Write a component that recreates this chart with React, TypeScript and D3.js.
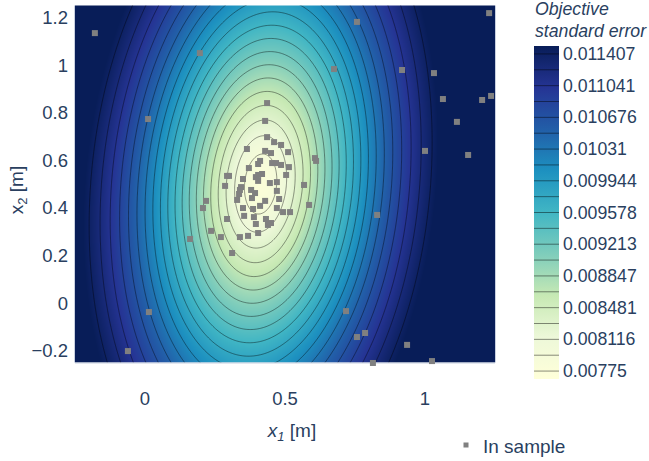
import React, { useMemo } from 'react';
import * as d3 from 'd3';

// ---- data (x1, x2 in metres) ----
const sampleX1 = [
  -0.179, 0.196, 0.011, 0.757, 0.675, 0.918, 1.032, 1.064, 1.204, 1.236, 1.229, 1.114, 1.0, 1.154,
  0.607, 0.611, 0.586, 0.829, 0.161, 0.014, -0.061, 0.718, 0.757, 0.786, 0.936, 0.814, 1.025,
  0.436, 0.429, 0.436, 0.364, 0.461, 0.486, 0.511, 0.429, 0.45, 0.411, 0.404, 0.454, 0.468, 0.486,
  0.514, 0.371, 0.404, 0.396, 0.418, 0.35, 0.293, 0.3, 0.286, 0.343, 0.404, 0.446, 0.471, 0.504,
  0.568, 0.339, 0.379, 0.471, 0.336, 0.393, 0.329, 0.382, 0.429, 0.479, 0.218, 0.207, 0.35, 0.411,
  0.386, 0.471, 0.493, 0.518, 0.293, 0.354, 0.389, 0.432, 0.439, 0.45, 0.396, 0.236, 0.271, 0.339,
  0.368, 0.404, 0.311,
];
const sampleX2 = [
  1.134, 1.05, 0.773, 1.181, 0.983, 0.979, 0.966, 0.857, 0.853, 0.87, 1.218, 0.761, 0.639, 0.622,
  0.609, 0.597, 0.412, 0.37, 0.269, -0.038, -0.202, -0.034, -0.143, -0.126, -0.176, -0.252, -0.244,
  0.84, 0.765, 0.697, 0.647, 0.676, 0.664, 0.634, 0.639, 0.63, 0.597, 0.584, 0.588, 0.588, 0.58,
  0.571, 0.567, 0.538, 0.529, 0.542, 0.521, 0.534, 0.534, 0.492, 0.487, 0.513, 0.504, 0.508, 0.538,
  0.496, 0.475, 0.475, 0.471, 0.458, 0.462, 0.433, 0.441, 0.429, 0.437, 0.429, 0.399, 0.399, 0.408,
  0.395, 0.399, 0.382, 0.382, 0.353, 0.366, 0.361, 0.353, 0.328, 0.336, 0.332, 0.303, 0.277, 0.277,
  0.282, 0.294, 0.21,
];

const xTicks = [0, 0.5, 1];
const xTickLabels = ['0', '0.5', '1'];
const yTicks = [-0.2, 0, 0.2, 0.4, 0.6, 0.8, 1, 1.2];
const yTickLabels = ['\u22120.2', '0', '0.2', '0.4', '0.6', '0.8', '1', '1.2'];
const cbTicks = [0.00775, 0.008116, 0.008481, 0.008847, 0.009213, 0.009578, 0.009944, 0.01031, 0.010676, 0.011041, 0.011407];
const cbTickLabels = ['0.00775', '0.008116', '0.008481', '0.008847', '0.009213', '0.009578', '0.009944', '0.01031', '0.010676', '0.011041', '0.011407'];

// contour settings
const contourStart = 0.00775;
const contourEnd = 0.011407;
const contourIntervals = 20;

// modelled objective standard-error surface
const surfaceCenter = [0.413, 0.5];
const surfaceScale = [0.5225, 1.15];
const surfaceShear = 0.06;
const surfaceExponent = 1.5;
const surfaceMin = 0.00775;
const surfaceAmpSteps = 28;

// YlGnBu reversed
const colorStops = [0, 0.125, 0.25, 0.375, 0.5, 0.625, 0.75, 0.875, 1];
const colorValues = [
  'rgb(255,255,217)', 'rgb(237,248,217)', 'rgb(199,233,180)', 'rgb(127,205,187)', 'rgb(65,182,196)',
  'rgb(29,145,192)', 'rgb(34,94,168)', 'rgb(37,52,148)', 'rgb(8,29,88)',
];

const W = 649;
const H = 461;
const PL = 75, PR = 495, PT = 5.5, PB = 362.5;
const FONT = '"Liberation Sans", Arial, sans-serif';
const TXT = '#2a3f5f';

const step = (contourEnd - contourStart) / contourIntervals;
const levels = d3.range(contourIntervals + 1).map((i) => contourStart + i * step);
const cMin = contourStart - step / 2;
const cMax = contourEnd + step / 2;

function surface(x: number, y: number) {
  const dy = y - surfaceCenter[1];
  const dx = x - surfaceCenter[0] - surfaceShear * dy;
  const r = Math.sqrt((dx / surfaceScale[0]) ** 2 + (dy / surfaceScale[1]) ** 2);
  return surfaceMin + surfaceAmpSteps * step * (1 - Math.exp(-Math.pow(r, surfaceExponent)));
}

export default function App() {
  const x = d3.scaleLinear().domain([-0.25, 1.25]).range([PL, PR]);
  const y = d3.scaleLinear().domain([-0.25, 1.25]).range([PB, PT]);
  const color = d3
    .scaleLinear<string>()
    .domain(colorStops.map((s) => cMin + s * (cMax - cMin)))
    .range(colorValues)
    .interpolate(d3.interpolateRgb)
    .clamp(true);
  const cb = d3.scaleLinear().domain([cMin, cMax]).range([379, 46]);

  const heat = useMemo(() => {
    const w = Math.round(PR - PL);
    const h = Math.round(PB - PT);
    const canvas = document.createElement('canvas');
    canvas.width = w;
    canvas.height = h;
    const ctx = canvas.getContext('2d')!;
    const img = ctx.createImageData(w, h);
    for (let j = 0; j < h; j++) {
      for (let i = 0; i < w; i++) {
        const v = surface(x.invert(PL + i + 0.5), y.invert(PT + j + 0.5));
        const c = d3.rgb(color(v));
        const k = (j * w + i) * 4;
        img.data[k] = c.r;
        img.data[k + 1] = c.g;
        img.data[k + 2] = c.b;
        img.data[k + 3] = 255;
      }
    }
    ctx.putImageData(img, 0, 0);
    return canvas.toDataURL();
  }, []);

  const contourPaths = useMemo(() => {
    const n = 320;
    const x0 = -0.3, x1 = 1.3, y1 = 1.3, y0 = -0.3;
    const dxc = (x1 - x0) / n;
    const dyc = (y1 - y0) / n;
    const vals = new Array(n * n);
    for (let j = 0; j < n; j++) {
      for (let i = 0; i < n; i++) {
        vals[j * n + i] = surface(x0 + (i + 0.5) * dxc, y1 - (j + 0.5) * dyc);
      }
    }
    const cs = d3.contours().size([n, n]).thresholds(levels)(vals);
    const proj = d3.geoTransform({
      point(px: number, py: number) {
        (this as any).stream.point(x(x0 + px * dxc), y(y1 - py * dyc));
      },
    });
    const path = d3.geoPath(proj);
    return cs.map((c) => path(c as any) || '');
  }, []);

  return (
    <svg width={W} height={H} style={{ display: 'block', position: 'absolute', left: 0, top: 0 }} fontFamily={FONT}>
      <defs>
        <clipPath id="plotclip">
          <rect x={PL} y={PT} width={PR - PL} height={PB - PT} />
        </clipPath>
        <linearGradient id="cbgrad" x1="0" y1="1" x2="0" y2="0">
          {colorStops.map((s, i) => (
            <stop key={i} offset={s} stopColor={colorValues[i]} />
          ))}
        </linearGradient>
      </defs>
      <rect x={0} y={0} width={W} height={H} fill="#fff" />
      <image href={heat} x={PL} y={PT} width={PR - PL} height={PB - PT} preserveAspectRatio="none" />
      <g clipPath="url(#plotclip)">
        {contourPaths.map((d, i) => (
          <path key={i} d={d} fill="none" stroke="#000" strokeOpacity={0.45} strokeWidth={0.9} />
        ))}
      </g>
      <line x1={PL - 0.5} x2={PL - 0.5} y1={PT} y2={PB} stroke="#c8d0e0" strokeWidth={1} />
      <line x1={PL} x2={PR} y1={PB + 0.5} y2={PB + 0.5} stroke="#c8d0e0" strokeWidth={1} />
      <line x1={PR + 0.5} x2={PR + 0.5} y1={PT} y2={PB} stroke="#c8d0e0" strokeWidth={1} />

      {sampleX1.map((v, i) => (
        <rect key={i} x={x(v) - 3} y={y(sampleX2[i]) - 3} width={6} height={6} fill="#808080" />
      ))}

      {xTicks.map((t, i) => (
        <text key={i} x={x(t)} y={405} textAnchor="middle" fontSize={18.5} fill={TXT}>
          {xTickLabels[i]}
        </text>
      ))}
      {yTicks.map((t, i) => (
        <text key={i} x={68} y={y(t) + 6.5} textAnchor="end" fontSize={18.5} fill={TXT}>
          {yTickLabels[i]}
        </text>
      ))}
      <text x={292} y={437} textAnchor="middle" fontSize={19} fill={TXT}>
        <tspan fontStyle="italic">x</tspan>
        <tspan fontStyle="italic" fontSize={13} dy={4}>1</tspan>
        <tspan dy={-4}> [m]</tspan>
      </text>
      <text transform="translate(23,190) rotate(-90)" textAnchor="middle" fontSize={19} fill={TXT}>
        <tspan>x</tspan>
        <tspan fontSize={13} dy={4}>2</tspan>
        <tspan dy={-4}> [m]</tspan>
      </text>

      {/* colorbar */}
      <rect x={534} y={46} width={25} height={333} fill="url(#cbgrad)" />
      {levels.map((l, i) => (
        <line key={i} x1={534} x2={559} y1={cb(l)} y2={cb(l)} stroke="#000" strokeOpacity={0.45} strokeWidth={1} />
      ))}
      {cbTicks.map((t, i) => (
        <text key={i} x={563} y={cb(t) + 6} fontSize={17.7} fill={TXT}>
          {cbTickLabels[i]}
        </text>
      ))}
      <text x={535} y={15} fontSize={17.7} fontStyle="italic" fill={TXT}>Objective</text>
      <text x={535} y={37} fontSize={17.7} fontStyle="italic" fill={TXT}>standard error</text>

      {/* legend */}
      <rect x={463.5} y={442.5} width={5} height={5} fill="#808080" />
      <text x={483} y={452.5} fontSize={19} fill={TXT}>In sample</text>
    </svg>
  );
}
